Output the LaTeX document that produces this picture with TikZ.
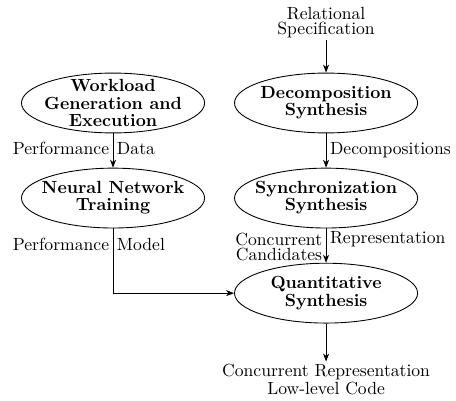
\documentclass[tikz,border=0pt]{standalone}
\usepackage{tikz}
\usetikzlibrary{positioning, shapes.geometric, arrows.meta}

\begin{document}
\begin{tikzpicture}[>={Stealth[length=4.5pt, width=3.4pt, inset=1.3pt]},
    line width=0.5pt,
    stage/.style={draw, ellipse, minimum width=104pt, minimum height=34pt,
      inner xsep=-15pt, inner ysep=-10pt, align=center,
      font=\bfseries\fontsize{10}{9.7}\selectfont},
    lbl/.style={font=\fontsize{10}{8.5}\selectfont, inner sep=2pt},
    io/.style={lbl, align=center, inner sep=1pt}]
  \useasboundingbox (0,0) rectangle (259pt,-227.3pt);
  \node[stage] (wl) at (64.2pt,-58.5pt) {Workload\\Generation and\\Execution};
  \node[stage, below=19.5pt of wl] (nn) {Neural Network\\Training};
  \node[stage, right=16.5pt of wl] (ds) {Decomposition\\Synthesis};
  \node[stage, below=19.5pt of ds] (ss) {Synchronization\\Synthesis};
  \node[stage, below=19.5pt of ss] (qs) {Quantitative\\Synthesis};
  \node[io] (spec) at (185.2pt,-12.8pt) {Relational\\Specification};
  \node[io, font=\fontsize{10}{10.2}\selectfont, below=21.6pt of qs] (out)
    {Concurrent Representation\\Low-level Code};
  \draw[->] (spec) -- (ds);
  \draw[->] (wl) -- node[lbl, pos=0.43, left] {Performance}
    node[lbl, pos=0.43, right] {Data} (nn);
  \draw[->] (ds) -- node[lbl, pos=0.49, right] {Decompositions} (ss);
  \draw[->] (ss) -- node[lbl, pos=0.55, left, align=right] {Concurrent\\Candidates}
    node[lbl, pos=0.3, right] {Representation} (qs);
  \draw[->] (nn) |- node[lbl, pos=0.125, left] {Performance}
    node[lbl, pos=0.125, right] {Model} (qs);
  \draw[->] (qs) -- (out);
\end{tikzpicture}
\end{document}
